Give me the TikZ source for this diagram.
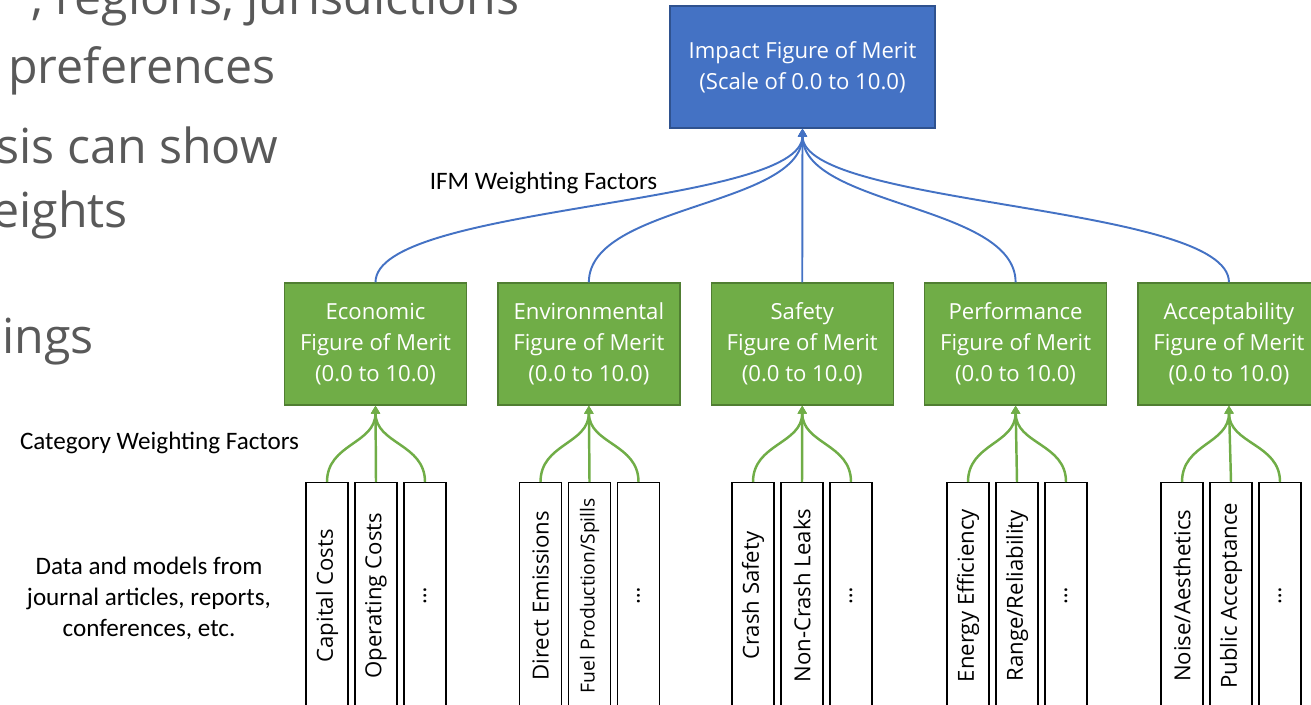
\documentclass[tikz,border=0pt]{standalone}
\usepackage{fontspec}
\usepackage{tikz}
\usetikzlibrary{positioning,arrows.meta}
\setmainfont{Open Sans}
\newfontfamily\calibri{Carlito}
\definecolor{ifmblue}{RGB}{68,114,196}
\definecolor{ifmrule}{RGB}{47,82,143}
\definecolor{fomgreen}{RGB}{112,173,71}
\definecolor{fomrule}{RGB}{80,126,50}
\definecolor{slidegray}{RGB}{89,89,89}
\newcommand{\fomfont}{\fontsize{12.6}{17.6}\selectfont}
\newcommand{\fuelfont}{\fontsize{11}{14}\selectfont}
\newcommand{\catfont}{\calibri\fontsize{14.3}{17.6}\selectfont}
\newcommand{\bigslidefont}{\fontsize{27.5}{34}\selectfont}
\tikzset{
  impactbox/.style={rectangle,draw=ifmrule,line width=0.8pt,fill=ifmblue,text=white,align=center,minimum width=5.3cm,minimum height=2.44cm,font=\fomfont},
  fombox/.style={rectangle,draw=fomrule,line width=0.8pt,fill=fomgreen,text=white,align=center,minimum width=3.64cm,minimum height=2.44cm,font=\fomfont},
  leaf/.style={rectangle,draw=black,line width=0.8pt,fill=white,rotate=90,anchor=east,minimum width=4.52cm,minimum height=0.84cm,inner sep=0pt,font=\fomfont},
  ifmlink/.style={-{Triangle[length=4.5pt,width=5pt]},draw=ifmblue,line width=1.1pt},
  catlink/.style={-{Triangle[length=4.5pt,width=5pt]},draw=fomgreen,line width=1.4pt},
  note/.style={align=center,font=\catfont},
  slideline/.style={inner sep=0pt,text=slidegray,font=\bigslidefont}
}
\begin{document}
\begin{tikzpicture}[x=0.02cm,y=-0.02cm,node distance=0.6cm]
  \clip (0,0) rectangle (1311,705);
  % slide text behind the picture
  \node[slideline,anchor=base east] (sl1) at (520,15) {, regions, jurisdictions};
  \node[slideline,anchor=base west] (sl2) at (8,84) {preferences};
  \node[slideline,anchor=base west] (sl3) at (-4,164) {sis can show};
  \node[slideline,anchor=base west] (sl4) at (-8,228) {eights};
  \node[slideline,anchor=base west] (sl5) at (2,354) {ings};

  \node[impactbox] (ifm) at (802.5,67) {Impact Figure of Merit\\(Scale of 0.0 to 10.0)};
  \node[fombox] (eco) at (375.5,344) {Economic\\Figure of Merit\\(0.0 to 10.0)};
  \node[fombox,right=of eco] (env) {Environmental\\Figure of Merit\\(0.0 to 10.0)};
  \node[fombox,right=of env] (saf) {Safety\\Figure of Merit\\(0.0 to 10.0)};
  \node[fombox,right=of saf] (perf) {Performance\\Figure of Merit\\(0.0 to 10.0)};
  \node[fombox,right=of perf] (acc) {Acceptability\\Figure of Merit\\(0.0 to 10.0)};

  \node[note] (ifmw) at (543.5,183) {IFM Weighting Factors};
  \node[note] (catw) at (159.5,443) {Category Weighting Factors};
  \node[note] (data) at (149,598) {Data and models from\\journal articles, reports,\\conferences, etc.};

  % leaves
  \node[leaf] (capcost) at (327,482) {Capital Costs};
  \node[leaf] (opcost) at (376,482) {Operating Costs};
  \node[leaf] (ecomore) at (425,482) {…};
  \node[leaf] (diremis) at (540.5,482) {Direct Emissions};
  \node[leaf,font=\fuelfont] (fuelprod) at (589.5,482) {Fuel Production/Spills};
  \node[leaf] (envmore) at (638.5,482) {…};
  \node[leaf] (crash) at (753,482) {Crash Safety};
  \node[leaf] (leaks) at (802,482) {Non-Crash Leaks};
  \node[leaf] (safmore) at (851,482) {…};
  \node[leaf] (energy) at (968,482) {Energy Efficiency};
  \node[leaf] (range) at (1017,482) {Range/Reliability};
  \node[leaf] (perfmore) at (1066,482) {…};
  \node[leaf] (noise) at (1182,482) {Noise/Aesthetics};
  \node[leaf] (public) at (1231,482) {Public Acceptance};
  \node[leaf] (accmore) at (1280,482) {…};

  % IFM weighting
  \draw[ifmlink] (eco.north) .. controls +(0,-78) and +(0,78) .. (ifm.south);
  \draw[ifmlink] (env.north) .. controls +(0,-78) and +(0,78) .. (ifm.south);
  \draw[ifmlink] (saf.north) -- (ifm.south);
  \draw[ifmlink] (perf.north) .. controls +(0,-78) and +(0,78) .. (ifm.south);
  \draw[ifmlink] (acc.north) .. controls +(0,-78) and +(0,78) .. (ifm.south);

  % category weighting
  \draw[catlink] (capcost.east) .. controls +(0,-38.5) and +(0,38.5) .. (eco.south);
  \draw[catlink] (opcost.east) -- (eco.south);
  \draw[catlink] (ecomore.east) .. controls +(0,-38.5) and +(0,38.5) .. (eco.south);
  \draw[catlink] (diremis.east) .. controls +(0,-38.5) and +(0,38.5) .. (env.south);
  \draw[catlink] (fuelprod.east) -- (env.south);
  \draw[catlink] (envmore.east) .. controls +(0,-38.5) and +(0,38.5) .. (env.south);
  \draw[catlink] (crash.east) .. controls +(0,-38.5) and +(0,38.5) .. (saf.south);
  \draw[catlink] (leaks.east) -- (saf.south);
  \draw[catlink] (safmore.east) .. controls +(0,-38.5) and +(0,38.5) .. (saf.south);
  \draw[catlink] (energy.east) .. controls +(0,-38.5) and +(0,38.5) .. (perf.south);
  \draw[catlink] (range.east) -- (perf.south);
  \draw[catlink] (perfmore.east) .. controls +(0,-38.5) and +(0,38.5) .. (perf.south);
  \draw[catlink] (noise.east) .. controls +(0,-38.5) and +(0,38.5) .. (acc.south);
  \draw[catlink] (public.east) -- (acc.south);
  \draw[catlink] (accmore.east) .. controls +(0,-38.5) and +(0,38.5) .. (acc.south);
\end{tikzpicture}
\end{document}
